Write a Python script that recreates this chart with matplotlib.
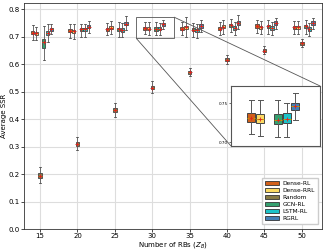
import matplotlib
matplotlib.use("Agg")
import matplotlib.pyplot as plt
from matplotlib.patches import Patch
from mpl_toolkits.axes_grid1.inset_locator import mark_inset

rbs = [15, 20, 25, 30, 35, 40, 45, 50]
methods = ["Dense-RL", "Dense-RRL", "Random", "GCN-RL", "LSTM-RL", "RGRL"]
colors = ["#d2601a", "#fbd962", "#877a45", "#35a06f", "#1cc3c8", "#4580b6"]

med = [
    [0.715, 0.722, 0.727, 0.731, 0.730, 0.730, 0.739, 0.735],
    [0.713, 0.720, 0.733, 0.730, 0.735, 0.737, 0.735, 0.735],
    [0.195, 0.310, 0.435, 0.515, 0.571, 0.616, 0.650, 0.677],
    [0.680, 0.727, 0.728, 0.729, 0.726, 0.742, 0.738, 0.738],
    [0.715, 0.727, 0.725, 0.730, 0.724, 0.732, 0.732, 0.729],
    [0.727, 0.737, 0.748, 0.746, 0.739, 0.750, 0.750, 0.750],
]
q1 = [
    [0.709, 0.716, 0.721, 0.7255, 0.724, 0.724, 0.733, 0.729],
    [0.707, 0.714, 0.727, 0.724, 0.729, 0.731, 0.729, 0.729],
    [0.187, 0.303, 0.428, 0.509, 0.566, 0.611, 0.645, 0.672],
    [0.658, 0.721, 0.722, 0.723, 0.720, 0.736, 0.732, 0.732],
    [0.708, 0.721, 0.719, 0.725, 0.718, 0.726, 0.726, 0.723],
    [0.721, 0.731, 0.742, 0.741, 0.733, 0.744, 0.744, 0.744],
]
q3 = [
    [0.721, 0.728, 0.733, 0.737, 0.736, 0.736, 0.745, 0.741],
    [0.719, 0.726, 0.739, 0.736, 0.741, 0.743, 0.741, 0.741],
    [0.205, 0.318, 0.442, 0.522, 0.577, 0.622, 0.656, 0.683],
    [0.694, 0.733, 0.734, 0.736, 0.732, 0.748, 0.744, 0.744],
    [0.722, 0.733, 0.731, 0.737, 0.730, 0.738, 0.738, 0.735],
    [0.733, 0.743, 0.754, 0.750, 0.745, 0.756, 0.756, 0.756],
]
whislo = [
    [0.690, 0.695, 0.705, 0.710, 0.705, 0.706, 0.714, 0.712],
    [0.690, 0.692, 0.710, 0.708, 0.700, 0.712, 0.712, 0.712],
    [0.170, 0.287, 0.410, 0.495, 0.556, 0.600, 0.636, 0.662],
    [0.615, 0.700, 0.700, 0.707, 0.700, 0.718, 0.712, 0.712],
    [0.683, 0.700, 0.698, 0.706, 0.695, 0.705, 0.706, 0.703],
    [0.710, 0.715, 0.725, 0.729, 0.718, 0.728, 0.730, 0.730],
]
whishi = [
    [0.742, 0.745, 0.750, 0.754, 0.755, 0.754, 0.762, 0.758],
    [0.736, 0.745, 0.756, 0.754, 0.774, 0.760, 0.758, 0.758],
    [0.225, 0.335, 0.460, 0.538, 0.586, 0.634, 0.668, 0.692],
    [0.740, 0.748, 0.755, 0.754, 0.750, 0.765, 0.760, 0.760],
    [0.745, 0.748, 0.750, 0.750, 0.748, 0.755, 0.754, 0.752],
    [0.748, 0.758, 0.775, 0.763, 0.760, 0.780, 0.770, 0.768],
]
offsets = [-1.0, -0.5, 0.0, 0.5, 1.0, 1.5]

plt.rcParams['font.family'] = ['DejaVu Sans']
fig = plt.figure(figsize=(3.24, 2.5), dpi=100)
ax = fig.add_axes([0.074, 0.083, 0.92, 0.907])


def draw(axis, lw=0.6, ms=2.5):
    for m in range(len(methods)):
        stats = []
        for j in range(len(rbs)):
            stats.append(dict(med=med[m][j], q1=q1[m][j], q3=q3[m][j],
                              whislo=whislo[m][j], whishi=whishi[m][j],
                              mean=med[m][j], fliers=[]))
        pos = [r + offsets[m] for r in rbs]
        axis.bxp(stats, positions=pos, widths=0.45, patch_artist=True,
                 showmeans=True, manage_ticks=False,
                 boxprops=dict(facecolor=colors[m], edgecolor='#444444', linewidth=lw),
                 whiskerprops=dict(color='#555555', linewidth=lw),
                 capprops=dict(color='#555555', linewidth=lw),
                 capwidths=0.27,
                 medianprops=dict(color='#c8a000', linewidth=lw),
                 meanprops=dict(marker='+', markeredgecolor='#e02020',
                                markersize=ms, markeredgewidth=0.6))


draw(ax)
ax.set_xlim(12.85, 52.7)
ax.set_ylim(0, 0.825)
ax.set_xticks(rbs)
ax.set_yticks([0.0, 0.1, 0.2, 0.3, 0.4, 0.5, 0.6, 0.7, 0.8])
ax.grid(True, color='#dddddd', linewidth=0.8)
ax.set_axisbelow(True)
ax.tick_params(labelsize=5, length=2, width=0.5, pad=1)
for s in ax.spines.values():
    s.set_linewidth(0.6)
    s.set_color('#333333')
ax.set_xlabel("Number of RBs ($Z_B$)", fontsize=5, labelpad=0.3)
ax.set_ylabel("Average SSR", fontsize=5, labelpad=1)

handles = [Patch(facecolor=c, edgecolor='#333333', linewidth=0.6, label=n)
           for c, n in zip(colors, methods)]
ax.legend(handles=handles, loc='lower right', fontsize=4.2, handlelength=2.4,
          handleheight=0.8, labelspacing=0.3, borderpad=0.5, handletextpad=0.6,
          framealpha=1, edgecolor='#cccccc', fancybox=False,
          bbox_to_anchor=(0.995, 0.01))

axins = fig.add_axes([0.713, 0.416, 0.275, 0.24])
draw(axins, lw=0.7, ms=3)
axins.set_xlim(27.85, 32.9)
axins.set_ylim(0.695, 0.772)
axins.set_xticks([])
axins.set_yticks([0.70, 0.75])
axins.tick_params(labelsize=3, length=1.5, width=0.4, pad=1)
for s in axins.spines.values():
    s.set_linewidth(0.8)
    s.set_color('#555555')
mark_inset(ax, axins, loc1=1, loc2=3, fc='none', ec='#555555', lw=0.6)

fig.savefig("out.png", dpi=100)
